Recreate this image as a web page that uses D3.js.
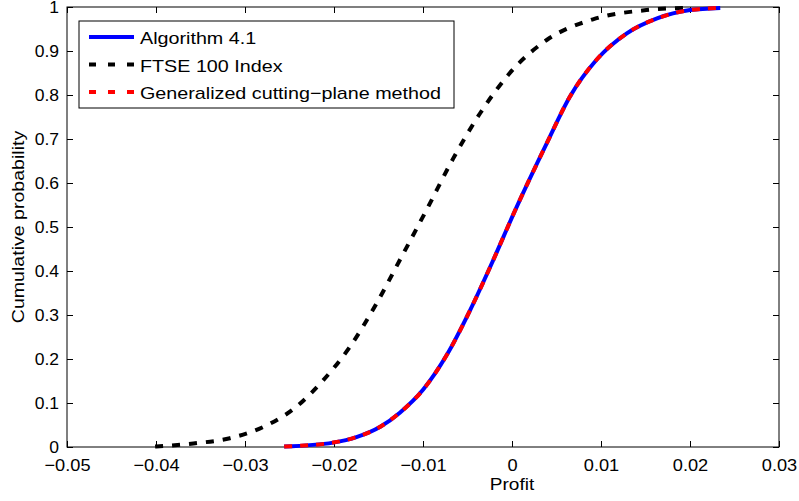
<!DOCTYPE html>
<html>
<head>
<meta charset="utf-8">
<script src="https://cdn.jsdelivr.net/npm/d3@7"></script>
<style>
  body { margin: 0; background: #fff; }
  text { font-family: "Liberation Sans", Arial, sans-serif; fill: #000; }
</style>
</head>
<body>
<svg id="chart" width="799" height="501"></svg>
<script>
// values
const algoX = [-0.0256, -0.0201, -0.0174, -0.0148, -0.0126, -0.0100, -0.0073, -0.0047, -0.0021, 0.0002, 0.0039, 0.0065, 0.0095, 0.0129, 0.0163, 0.0200, 0.0234];
const algoY = [0.001, 0.010, 0.023, 0.046, 0.078, 0.130, 0.210, 0.311, 0.425, 0.531, 0.690, 0.796, 0.880, 0.940, 0.974, 0.993, 0.998];
const ftseX = [-0.0401, -0.0358, -0.0317, -0.0279, -0.0242, -0.0212, -0.0182, -0.0152, -0.0126, -0.0096, -0.0066, -0.0036, 0.0002, 0.0039, 0.0091, 0.0151, 0.0196];
const ftseY = [0.001, 0.008, 0.020, 0.046, 0.092, 0.152, 0.228, 0.327, 0.425, 0.539, 0.656, 0.758, 0.860, 0.925, 0.972, 0.993, 0.998];
const xTicks = [-0.05, -0.04, -0.03, -0.02, -0.01, 0, 0.01, 0.02, 0.03];
const yTicks = [0, 0.1, 0.2, 0.3, 0.4, 0.5, 0.6, 0.7, 0.8, 0.9, 1];
const legendLabels = ['Algorithm 4.1', 'FTSE 100 Index', 'Generalized cutting\u2212plane method'];

const plotLeft = 67, plotRight = 779, plotTop = 7, plotBottom = 447;
const svg = d3.select('#chart');

let x = d3.scaleLinear().domain([-0.05, 0.03]).range([plotLeft, plotRight]);
let y = d3.scaleLinear().domain([0, 1]).range([plotBottom, plotTop]);

const fmt = (d) => d === 0 ? '0' : d3.format('.2f')(d).replace('-', '\u2212');
const fmtY = (d) => d === 0 || d === 1 ? String(d) : d3.format('.1f')(d);

// the original font runs a bit wider than Liberation Sans
function widen(sel, k) {
  sel.each(function() {
    const len = this.getComputedTextLength();
    d3.select(this).attr('textLength', len * k).attr('lengthAdjust', 'spacingAndGlyphs');
  });
}

// box with inward ticks on all sides
let xAxis = svg.append('g')
  .attr('transform', `translate(0,${plotBottom})`)
  .call(d3.axisBottom(x).tickValues(xTicks).tickSizeInner(-6).tickSizeOuter(0).tickPadding(12).tickFormat(fmt))
  .call(g => g.select('.domain').remove());
xAxis.selectAll('text').attr('font-size', 17);
svg.append('g')
  .attr('transform', `translate(0,${plotTop})`)
  .call(d3.axisTop(x).tickValues(xTicks).tickSizeInner(-6).tickSizeOuter(0).tickFormat(''))
  .call(g => g.select('.domain').remove());
let yAxis = svg.append('g')
  .attr('transform', `translate(${plotLeft},0)`)
  .call(d3.axisLeft(y).tickValues(yTicks).tickSizeInner(-6).tickSizeOuter(0).tickPadding(8).tickFormat(fmtY))
  .call(g => g.select('.domain').remove());
yAxis.selectAll('text').attr('font-size', 17);
svg.append('g')
  .attr('transform', `translate(${plotRight},0)`)
  .call(d3.axisRight(y).tickValues(yTicks).tickSizeInner(-6).tickSizeOuter(0).tickFormat(''))
  .call(g => g.select('.domain').remove());
svg.selectAll('.tick line').attr('stroke', '#000');
svg.selectAll('text').attr('font-family', '"Liberation Sans", Arial, sans-serif');
widen(xAxis.selectAll('text'), 1.07);
widen(yAxis.selectAll('text'), 1.03);

svg.append('rect')
  .attr('x', plotLeft).attr('y', plotTop)
  .attr('width', plotRight - plotLeft).attr('height', plotBottom - plotTop)
  .attr('fill', 'none').attr('stroke', '#000').attr('stroke-width', 1);

// curves
const line = d3.line()
  .x(d => x(d[0]))
  .y(d => y(d[1]))
  .curve(d3.curveMonotoneX);

const algo = algoX.map((v, i) => [v, algoY[i]]);
const ftse = ftseX.map((v, i) => [v, ftseY[i]]);

svg.append('path').datum(ftse)
  .attr('d', line)
  .attr('fill', 'none').attr('stroke', '#000').attr('stroke-width', 4)
  .attr('stroke-dasharray', '8,9');
svg.append('path').datum(algo)
  .attr('d', line)
  .attr('fill', 'none').attr('stroke', '#0000ff').attr('stroke-width', 4);
svg.append('path').datum(algo)
  .attr('d', line)
  .attr('fill', 'none').attr('stroke', '#ff0000').attr('stroke-width', 4)
  .attr('stroke-dasharray', '8,8');

// axis titles
let xTitle = svg.append('text')
  .attr('x', x(0)).attr('y', 490)
  .attr('text-anchor', 'middle').attr('font-size', 17)
  .text('Profit');
let yTitle = svg.append('text')
  .attr('transform', `translate(24,${(plotTop + plotBottom) / 2}) rotate(-90)`)
  .attr('text-anchor', 'middle').attr('font-size', 17)
  .text('Cumulative probability');
widen(xTitle, 1.12);
widen(yTitle, 1.15);

// legend
let legend = svg.append('g').attr('class', 'legend');
legend.append('rect')
  .attr('x', 79).attr('y', 21).attr('width', 375).attr('height', 87)
  .attr('fill', '#fff').attr('stroke', '#000').attr('stroke-width', 1);
const legendStyles = [
  { color: '#0000ff', dash: null },
  { color: '#000', dash: '7,12' },
  { color: '#ff0000', dash: '7,12' }
];
legendLabels.forEach((label, i) => {
  const ly = 37 + i * 27.5;
  legend.append('line')
    .attr('x1', 89).attr('x2', 134).attr('y1', ly).attr('y2', ly)
    .attr('stroke', legendStyles[i].color).attr('stroke-width', 4)
    .attr('stroke-dasharray', legendStyles[i].dash);
  let t = legend.append('text')
    .attr('x', 140).attr('y', ly + 7)
    .attr('font-size', 17)
    .text(label);
  widen(t, 1.16);
});
</script>
</body>
</html>
